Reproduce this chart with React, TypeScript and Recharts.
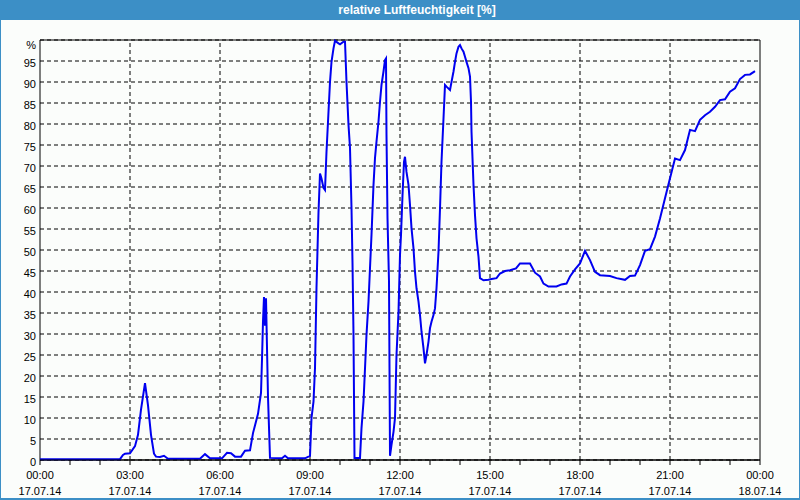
import React from "react";
import { LineChart, Line, XAxis, YAxis, CartesianGrid, ReferenceLine, ReferenceArea } from "recharts";

// minutes since 17.07.14 00:00
const minutes = [
  0, 160, 166, 170, 180, 190, 196, 202, 210, 216, 222, 228, 232, 240, 248, 256, 320, 330, 340, 364,
  374, 382, 390, 402, 410, 420, 426, 436, 442, 444, 446, 448, 450, 452, 456, 460, 484, 490, 496, 530,
  540, 543, 547, 550, 553, 557, 560, 563, 567, 570, 573, 577, 580, 583, 587, 590, 597, 600, 607, 610,
  613, 617, 620, 623, 625, 627, 629, 640, 643, 647, 650, 653, 657, 660, 663, 667, 670, 673, 677, 680,
  683, 687, 690, 692, 693, 695, 698, 700, 703, 707, 710, 713, 717, 720, 722, 725, 728, 730, 733, 737,
  740, 743, 747, 750, 753, 757, 760, 763, 767, 770, 773, 777, 780, 783, 787, 790, 793, 797, 800, 803,
  807, 810, 813, 820, 823, 827, 830, 833, 837, 840, 843, 847, 850, 853, 857, 860, 862, 863, 867, 870,
  873, 877, 880, 887, 897, 903, 913, 920, 930, 940, 952, 960, 980, 990, 1000, 1007, 1017, 1033, 1043, 1053,
  1060, 1070, 1080, 1090, 1100, 1110, 1120, 1140, 1153, 1170, 1180, 1190, 1200, 1210, 1220, 1230, 1240, 1250, 1260, 1270,
  1280, 1290, 1300, 1310, 1320, 1330, 1340, 1350, 1360, 1370, 1380, 1390, 1400, 1410, 1420, 1430,
];
const humidity = [
  0.2, 0.2, 1.2, 1.5, 1.6, 3.3, 6, 12, 18.3, 13, 6, 1.5, 0.8, 0.7, 1.0, 0.3, 0.3, 1.4, 0.4, 0.4,
  1.7, 1.6, 0.8, 0.8, 2.2, 2.3, 6.4, 11, 16, 24, 33, 38.8, 32, 38.5, 15, 0.5, 0.4, 1.0, 0.4, 0.4,
  1.0, 10, 13.9, 21.9, 41, 59, 68.2, 67, 64.8, 64.3, 73.4, 82.9, 90, 94.8, 98, 99.8, 99.2, 99, 99.6, 99.6,
  90, 79.8, 74.3, 60, 47, 29.8, 0.5, 0.5, 7.6, 13.9, 21.8, 29.8, 37.7, 45.7, 53.6, 65.5, 71.9, 75.8, 80.6, 85.3,
  89.3, 92.5, 95.2, 95.6, 77.4, 57.6, 42.5, 1.0, 3.6, 6.7, 10, 25, 35.3, 48.8, 53.6, 63, 71, 72.2, 68.6, 65.5,
  60.7, 55.2, 50.4, 44.8, 40.9, 37.7, 34.5, 30.6, 26.6, 23, 25, 28.2, 31.4, 32.9, 34.5, 36.1, 40.9, 49.6, 59.9, 71,
  81.3, 89.3, 88.9, 88.1, 90, 92.5, 94.8, 96.8, 98.4, 98.8, 98, 97.2, 96, 94.8, 93.3, 91.3, 85.3, 78.2, 65.5, 58.3,
  52.8, 48.4, 43.3, 42.8, 42.9, 43.1, 43.3, 44.4, 45, 45.2, 45.6, 46.8, 46.8, 44.6, 43.7, 42, 41.3, 41.3, 41.8, 42,
  43.7, 45.4, 46.8, 49.8, 47.6, 44.8, 44, 43.8, 43.3, 42.9, 43.8, 43.9, 46.4, 49.8, 50.2, 53.2, 57.5, 62.3, 67.1, 71.8,
  71.4, 73.8, 78.6, 78.3, 81, 82.1, 82.9, 84.1, 85.7, 85.9, 87.7, 88.5, 90.7, 91.7, 91.8, 92.6,
];

const hourTicks = [0, 60, 120, 180, 240, 300, 360, 420, 480, 540, 600, 660, 720, 780, 840, 900, 960, 1020, 1080, 1140, 1200, 1260, 1320, 1380, 1440];
const majorTicks = [180, 360, 540, 720, 900, 1080, 1260];
const timeLabels: Record<number, [string, string]> = {
  0: ["00:00", "17.07.14"],
  180: ["03:00", "17.07.14"],
  360: ["06:00", "17.07.14"],
  540: ["09:00", "17.07.14"],
  720: ["12:00", "17.07.14"],
  900: ["15:00", "17.07.14"],
  1080: ["18:00", "17.07.14"],
  1260: ["21:00", "17.07.14"],
  1440: ["00:00", "18.07.14"],
};
const yTicks = [0, 5, 10, 15, 20, 25, 30, 35, 40, 45, 50, 55, 60, 65, 70, 75, 80, 85, 90, 95, 100];

const data = minutes.map((t, i) => ({ t, rh: humidity[i] }));

const FONT = "'Liberation Sans', Arial, sans-serif";
const BLUE = "#3c8fc6";

function TimeTick(props: any) {
  const { x, y, payload } = props;
  const lbl = timeLabels[payload.value];
  if (!lbl) return null;
  return (
    <g>
      <text x={x} y={y + 14} textAnchor="middle" fontSize={11} fontFamily={FONT} fill="#000">{lbl[0]}</text>
      <text x={x} y={y + 30} textAnchor="middle" fontSize={11} fontFamily={FONT} fill="#000">{lbl[1]}</text>
    </g>
  );
}

function PctTick(props: any) {
  const { x, y, payload } = props;
  const v = payload.value;
  return (
    <text x={x} y={y + (v === 100 ? 9 : 6)} textAnchor="end" fontSize={11} fontFamily={FONT} fill="#000">
      {v === 100 ? "%" : String(v)}
    </text>
  );
}

export default function App() {
  return (
    <div style={{ position: "absolute", left: 0, top: 0, width: 800, height: 500, background: BLUE, overflow: "hidden" }}>
      <div
        style={{
          position: "absolute", left: 0, top: 0, width: 800, height: 20, lineHeight: "20px",
          paddingLeft: 34, boxSizing: "border-box", textAlign: "center", color: "#fff",
          fontFamily: FONT, fontWeight: "bold", fontSize: 12,
        }}
      >
        relative Luftfeuchtigkeit [%]
      </div>
      <div style={{ position: "absolute", left: 1, top: 20, width: 798, height: 478, background: "#fbfdfb" }} />
      <div style={{ position: "absolute", left: 0, top: 0 }}>
        <LineChart width={800} height={500} data={data} margin={{ top: 40, right: 40, bottom: 0, left: 0 }}>
          <CartesianGrid vertical={false} stroke="#000" strokeDasharray="4 3" />
          {majorTicks.map((v) => (
            <ReferenceLine key={v} x={v} stroke="#000" strokeDasharray="4 3" />
          ))}
          <XAxis
            dataKey="t"
            type="number"
            domain={[0, 1440]}
            ticks={hourTicks}
            interval={0}
            height={40}
            tickSize={5}
            tickMargin={0}
            axisLine={{ stroke: "#000" }}
            tickLine={{ stroke: "#000" }}
            tick={<TimeTick />}
          />
          <YAxis
            type="number"
            domain={[0, 100]}
            ticks={yTicks}
            interval={0}
            width={40}
            tickSize={0}
            tickMargin={4}
            axisLine={false}
            tickLine={false}
            tick={<PctTick />}
          />
          <ReferenceArea x1={0} x2={1440} y1={0} y2={100} fill="none" stroke="#000" strokeWidth={1} />
          <Line
            type="linear"
            dataKey="rh"
            stroke="#0000f0"
            strokeWidth={2}
            dot={false}
            activeDot={false}
            isAnimationActive={false}
          />
        </LineChart>
      </div>
    </div>
  );
}
